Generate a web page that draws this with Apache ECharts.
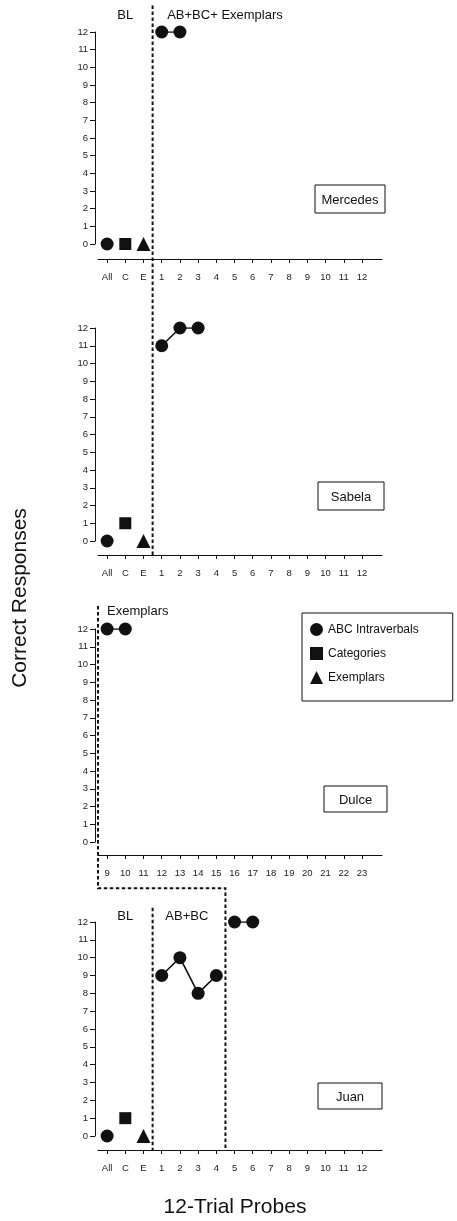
<!DOCTYPE html>
<html><head><meta charset="utf-8">
<script src="https://cdn.jsdelivr.net/npm/echarts@6/dist/echarts.min.js"></script>
<style>html,body{margin:0;padding:0;background:#fff}#c{width:457px;height:1221px}</style>
</head><body><div id="c"></div>
<script>
// ---- data ----
const baselineTicks = ['All', 'C', 'E'];
const sessionTicks = ['1','2','3','4','5','6','7','8','9','10','11','12'];
const dulceTicks = ['9','10','11','12','13','14','15','16','17','18','19','20','21','22','23'];
const participants = ['Mercedes', 'Sabela', 'Dulce', 'Juan'];
const legendNames = ['ABC Intraverbals', 'Categories', 'Exemplars'];
// baseline: [All (circle), C (square), E (triangle)]
const mercedesBaseline = [0, 0, 0];
const mercedesSessions = [1, 2];
const mercedesValues = [12, 12];
const sabelaBaseline = [0, 1, 0];
const sabelaSessions = [1, 2, 3];
const sabelaValues = [11, 12, 12];
const dulceSessions = [9, 10];
const dulceValues = [12, 12];
const juanBaseline = [0, 1, 0];
const juanSessions1 = [1, 2, 3, 4];
const juanValues1 = [9, 10, 8, 9];
const juanSessions2 = [5, 6];
const juanValues2 = [12, 12];

const tickLabelsStd = baselineTicks.concat(sessionTicks);
const tickLabelsDulce = dulceTicks;

// ---- layout ----
const tops = [32, 328, 629, 922];
const bottoms = [244, 541, 842, 1136];
const xOffsets = [15, 14, 13, 14];
const INK = '#111';
const FONT = '"Liberation Sans", Arial, Helvetica, sans-serif';

const chart = echarts.init(document.getElementById('c'), null, {renderer: 'canvas'});

const grids = [], xAxes = [], yAxes = [], series = [];
const idx = Array.from({length: 15}, (_, i) => i);
for (let g = 0; g < 4; g++) {
  grids.push({left: 98, width: 284, top: tops[g], height: bottoms[g] - tops[g]});
  const labels = g === 2 ? tickLabelsDulce : tickLabelsStd;
  xAxes.push({
    type: 'value', gridIndex: g, min: -0.5, max: 15.1, offset: xOffsets[g],
    axisLine: {show: true, onZero: false, lineStyle: {color: INK, width: 1}},
    axisTick: {show: true, customValues: idx, length: 4, lineStyle: {color: INK, width: 1}},
    axisLabel: {show: true, customValues: idx, formatter: v => labels[Math.round(v)] || '',
      fontSize: 9.5, color: '#222', margin: 13, fontFamily: FONT},
    splitLine: {show: false}
  });
  yAxes.push({
    type: 'value', gridIndex: g, min: 0, max: 12, interval: 1, offset: 3,
    axisLine: {show: true, onZero: false, lineStyle: {color: INK, width: 1}},
    axisTick: {show: true, length: 5, lineStyle: {color: INK, width: 1}},
    axisLabel: {fontSize: 9.5, color: '#222', margin: 7, fontFamily: FONT},
    splitLine: {show: false}
  });
}

function addBaseline(g, b) {
  const syms = ['circle', 'rect', 'triangle'];
  const sizes = [13, 12, 14];
  for (let k = 0; k < 3; k++) {
    series.push({
      type: 'scatter', name: legendNames[k], xAxisIndex: g, yAxisIndex: g,
      symbol: syms[k], symbolSize: sizes[k], itemStyle: {color: INK, opacity: 1},
      data: [[k, b[k]]], silent: true, z: 5
    });
  }
}
function addLine(g, sessions, values, base) {
  series.push({
    type: 'line', name: legendNames[0], xAxisIndex: g, yAxisIndex: g,
    symbol: 'circle', symbolSize: 13, showAllSymbol: true,
    itemStyle: {color: INK, opacity: 1}, lineStyle: {color: INK, width: 1.6},
    data: sessions.map((s, i) => [s - base, values[i]]), silent: true, z: 5
  });
}
addBaseline(0, mercedesBaseline);
addLine(0, mercedesSessions, mercedesValues, -2);
addBaseline(1, sabelaBaseline);
addLine(1, sabelaSessions, sabelaValues, -2);
addLine(2, dulceSessions, dulceValues, 9);
addBaseline(3, juanBaseline);
addLine(3, juanSessions1, juanValues1, -2);
addLine(3, juanSessions2, juanValues2, -2);

chart.setOption({
  animation: false,
  backgroundColor: '#fff',
  grid: grids, xAxis: xAxes, yAxis: yAxes, series: series,
  legend: {
    show: true, orient: 'vertical', left: 302, top: 613,
    data: [{name: legendNames[0], icon: 'circle'}, {name: legendNames[1], icon: 'rect'}, {name: legendNames[2], icon: 'triangle'}],
    itemWidth: 13, itemHeight: 13, itemGap: 11,
    padding: [10, 34, 17, 8],
    borderColor: INK, borderWidth: 1, backgroundColor: '#fff',
    textStyle: {fontSize: 12, color: INK, fontFamily: FONT}, selectedMode: false
  }
});

// ---- annotations positioned through the chart's own scales ----
const P = (g, x, y) => chart.convertToPixel({gridIndex: g}, [x, y]);
const dash = {stroke: INK, lineWidth: 2, lineDash: [3.5, 2.5], fill: null};
const gfx = [];
function poly(pts) { gfx.push({type: 'polyline', shape: {points: pts}, style: dash, z: 10, silent: true}); }
poly([P(0, 2.5, 13.5), P(1, 2.5, -0.95)]);
poly([P(2, -0.5, 13.3), P(2, -0.5, -2.6), P(2, 6.5, -2.6), P(3, 6.5, -0.8)]);
poly([P(3, 2.5, 12.8), P(3, 2.5, -0.8)]);

function txt(pt, s, align, size) {
  gfx.push({type: 'text', x: pt[0], y: pt[1], z: 10, silent: true,
    style: {text: s, fill: INK, fontSize: size || 13, fontFamily: FONT, align: align || 'left', verticalAlign: 'middle'}});
}
txt(P(0, 1, 12.95), 'BL', 'center');
txt(P(0, 3.3, 12.95), 'AB+BC+ Exemplars', 'left');
txt(P(3, 1, 12.3), 'BL', 'center');
txt(P(3, 3.2, 12.3), 'AB+BC', 'left');
txt(P(2, 0.0, 13.0), 'Exemplars', 'left');

// participant name boxes
const boxes = [[315, 185, 70, 28], [318, 482, 66, 28], [324, 786, 63, 26], [318, 1083, 64, 26]];
boxes.forEach((b, i) => {
  gfx.push({type: 'rect', shape: {x: b[0], y: b[1], width: b[2], height: b[3]}, style: {fill: '#fff', stroke: INK, lineWidth: 1}, z: 10, silent: true});
  gfx.push({type: 'text', x: b[0] + b[2] / 2, y: b[1] + b[3] / 2 + 1, z: 11, silent: true,
    style: {text: participants[i], fill: INK, fontSize: 13, fontFamily: FONT, align: 'center', verticalAlign: 'middle'}});
});
// axis titles
gfx.push({type: 'text', x: 20, y: 598, rotation: Math.PI / 2, z: 10, silent: true,
  style: {text: 'Correct Responses', fill: INK, fontSize: 21, fontFamily: FONT, align: 'center', verticalAlign: 'middle'}});
gfx.push({type: 'text', x: 235, y: 1207, z: 10, silent: true,
  style: {text: '12-Trial Probes', fill: INK, fontSize: 21, fontFamily: FONT, align: 'center', verticalAlign: 'middle'}});

chart.setOption({graphic: gfx});
</script>
</body></html>
